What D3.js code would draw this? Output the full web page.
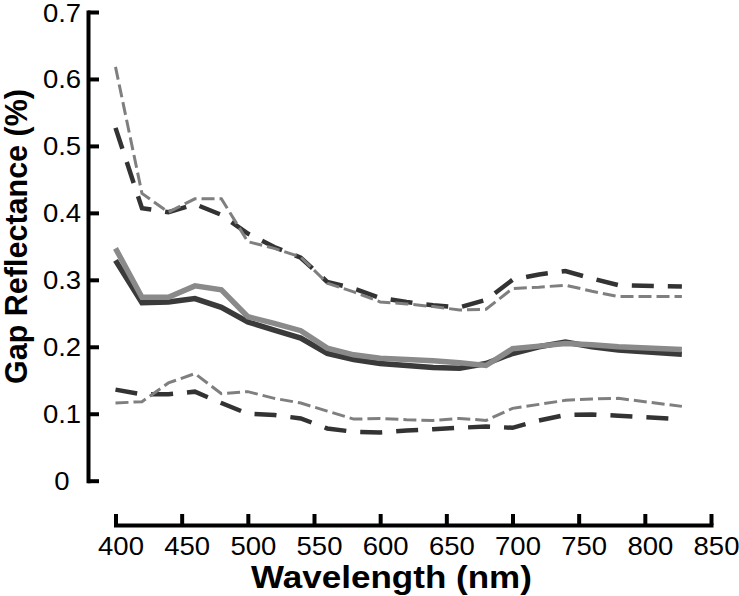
<!DOCTYPE html>
<html>
<head>
<meta charset="utf-8">
<script src="https://cdn.jsdelivr.net/npm/d3@7"></script>
<style>
  html, body { margin: 0; padding: 0; background: #fff; }
  svg { display: block; }
  text { font-family: "Liberation Sans", Arial, sans-serif; fill: #000; }
</style>
</head>
<body>
<svg id="chart" width="739" height="596"></svg>
<script>
// ---- data ----
const wavelengths = [400,420,440,460,480,500,520,540,560,580,600,620,640,660,680,700,720,740,760,780,828];

const darkSolid   = [0.329,0.266,0.267,0.272,0.259,0.237,0.225,0.213,0.190,0.181,0.175,0.172,0.169,0.168,0.175,0.190,0.200,0.207,0.200,0.195,0.189];
const greySolid   = [0.347,0.274,0.274,0.291,0.285,0.245,0.235,0.224,0.198,0.188,0.183,0.181,0.179,0.176,0.172,0.197,0.201,0.205,0.203,0.200,0.196];
const darkDashHi  = [0.527,0.407,0.401,0.413,0.397,0.369,0.349,0.333,0.297,0.287,0.273,0.267,0.262,0.259,0.270,0.300,0.308,0.313,0.302,0.292,0.290];
const greyDashHi  = [0.618,0.429,0.401,0.421,0.421,0.357,0.347,0.334,0.295,0.282,0.267,0.264,0.260,0.255,0.256,0.287,0.289,0.292,0.283,0.275,0.275];
const darkDashLo  = [0.136,0.129,0.129,0.133,0.116,0.100,0.098,0.093,0.078,0.073,0.072,0.075,0.077,0.079,0.081,0.079,0.090,0.098,0.099,0.097,0.092];
const greyDashLo  = [0.116,0.118,0.146,0.160,0.130,0.133,0.123,0.116,0.104,0.092,0.093,0.091,0.090,0.093,0.090,0.108,0.114,0.120,0.122,0.123,0.111];

const xTicks = [400,450,500,550,600,650,700,750,800,850];
const yTicks = [0,0.1,0.2,0.3,0.4,0.5,0.6,0.7];
const xTitle = "Wavelength (nm)";
const yTitle = "Gap Reflectance (%)";

// ---- drawing ----
const svg = d3.select("#chart");
const x = d3.scaleLinear().domain([400, 850]).range([115.5, 711]);
const y = d3.scaleLinear().domain([0, 0.7]).range([480.7, 12]);

const series = [
  { values: darkDashHi, color: "#333333", width: 4.5, dash: "22,14" },
  { values: greyDashHi, color: "#7f7f7f", width: 3,   dash: "13,5" },
  { values: darkDashLo, color: "#333333", width: 4.5, dash: "22,14" },
  { values: greyDashLo, color: "#7f7f7f", width: 3,   dash: "13,5" },
  { values: darkSolid,  color: "#3a3a3a", width: 5.5, dash: null },
  { values: greySolid,  color: "#8a8a8a", width: 5.5, dash: null }
];

const line = d3.line().x(d => x(d[0])).y(d => y(d[1]));

svg.append("g").selectAll("path")
  .data(series)
  .join("path")
  .attr("d", s => line(wavelengths.map((w, i) => [w, s.values[i]])))
  .attr("fill", "none")
  .attr("stroke", s => s.color)
  .attr("stroke-width", s => s.width)
  .attr("stroke-dasharray", s => s.dash)
  .attr("stroke-linejoin", "miter");

// y axis
const yAxis = svg.append("g")
  .attr("transform", "translate(88,0)")
  .call(d3.axisLeft(y).tickValues(yTicks).tickSize(-11).tickSizeOuter(0)
        .tickFormat(d => d === 0 ? "0" : d3.format(".1f")(d)));
yAxis.select(".domain").attr("stroke", "#000").attr("stroke-width", 4).attr("stroke-linecap", "square");
yAxis.selectAll(".tick line").attr("stroke", "#000").attr("stroke-width", 4);
yAxis.selectAll(".tick text")
  .attr("x", 0).attr("dy", "0.36em")
  .attr("transform", "translate(-26,0) scale(1.1,1)")
  .attr("text-anchor", "middle")
  .style("font-size", "25px");

// x axis
const xAxis = svg.append("g")
  .attr("transform", "translate(0,525)")
  .call(d3.axisBottom(x).tickValues(xTicks).tickSize(-11).tickSizeOuter(0));
xAxis.select(".domain").attr("stroke", "#000").attr("stroke-width", 4).attr("stroke-linecap", "square");
xAxis.selectAll(".tick line").attr("stroke", "#000").attr("stroke-width", 4);
xAxis.selectAll(".tick text")
  .attr("y", 30.5).attr("dy", null)
  .attr("transform", "translate(5,0) scale(1.1,1)")
  .attr("text-anchor", "middle")
  .style("font-size", "25px");

svg.selectAll(".tick text").attr("fill", "#000").style("font-family", "'Liberation Sans', Arial, sans-serif");

// titles
svg.append("text")
  .attr("transform", "translate(391.5,588) scale(1.13,1)")
  .attr("text-anchor", "middle")
  .style("font-size", "31px").style("font-weight", "bold")
  .text(xTitle);

svg.append("text")
  .attr("transform", "translate(27,236.5) rotate(-90)")
  .attr("text-anchor", "middle")
  .style("font-size", "30.5px").style("font-weight", "bold")
  .text(yTitle);
</script>
</body>
</html>
